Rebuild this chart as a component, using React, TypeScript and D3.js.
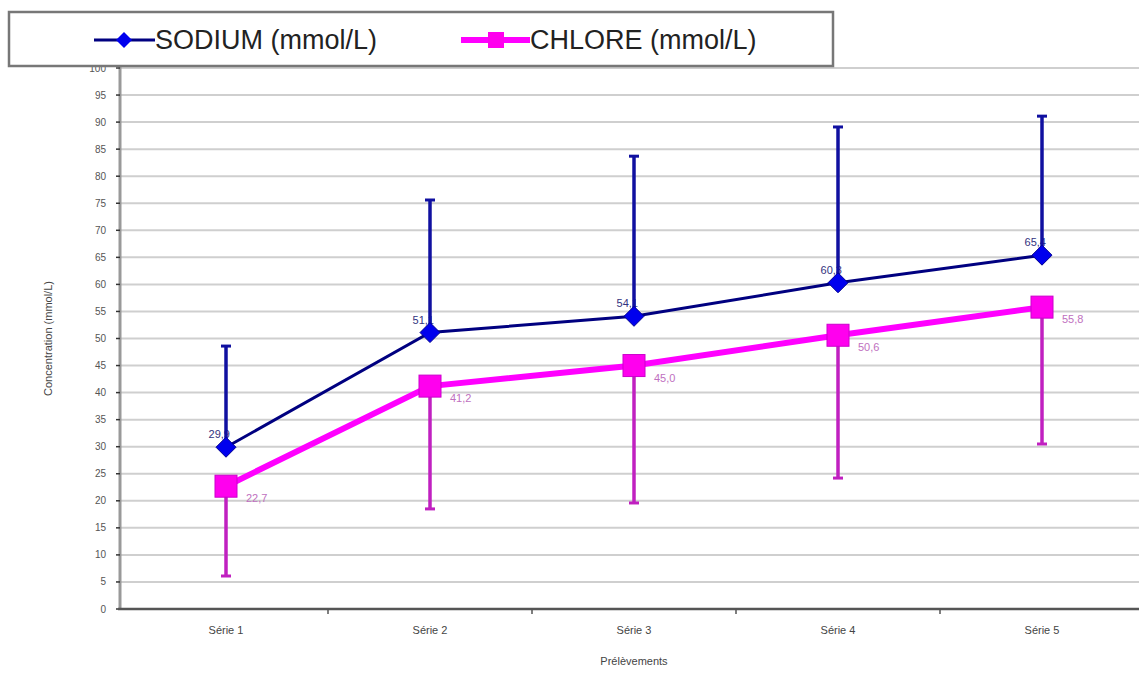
import React from "react";
import * as d3 from "d3";

const categories = ["Série 1", "Série 2", "Série 3", "Série 4", "Série 5"];
const sodium = [29.9, 51.1, 54.1, 60.3, 65.4];
const sodiumSD = [18.7, 24.5, 29.6, 28.8, 25.7];
const chlore = [22.7, 41.2, 45.0, 50.6, 55.8];
const chloreSD = [16.6, 22.7, 25.4, 26.4, 25.3];
const yTicks = d3.range(0, 101, 5);

const W = 1139;
const H = 675;

export default function App() {
  const x = d3.scaleBand<string>().domain(categories).range([124, 1144]).padding(0);
  const y = d3.scaleLinear().domain([0, 100]).range([609, 68]);
  const cx = (c: string) => (x(c) as number) + x.bandwidth() / 2;
  const line = d3
    .line<number>()
    .x((_, i) => cx(categories[i]))
    .y((d) => y(d));
  const fmt = (v: number) => v.toFixed(1).replace(".", ",");
  const font = "Arial, 'Liberation Sans', sans-serif";

  return (
    <svg
      width={W}
      height={H}
      style={{ position: "absolute", left: 0, top: 0, background: "#fff" }}
      fontFamily={font}
    >
      {/* grid */}
      {yTicks.map((t) => (
        <line key={"g" + t} x1={120} x2={1140} y1={y(t)} y2={y(t)} stroke="#cfcfcf" strokeWidth={2} />
      ))}
      {/* y axis */}
      <line x1={120} x2={120} y1={y(100) - 2} y2={y(0)} stroke="#999" strokeWidth={3} />
      {yTicks.map((t) => (
        <g key={"t" + t}>
          <line x1={116} x2={120} y1={y(t)} y2={y(t)} stroke="#333" strokeWidth={1.5} />
          <text x={106} y={y(t)} dy="0.35em" textAnchor="end" fontSize={10} fill="#555">
            {t}
          </text>
        </g>
      ))}
      {/* x axis */}
      <line x1={118} x2={1140} y1={y(0)} y2={y(0)} stroke="#555" strokeWidth={2.5} />
      {categories.slice(1).map((c) => (
        <line key={"xt" + c} x1={x(c)} x2={x(c)} y1={y(0)} y2={y(0) + 5} stroke="#555" strokeWidth={1.5} />
      ))}
      {categories.map((c) => (
        <text key={"xl" + c} x={cx(c)} y={634} textAnchor="middle" fontSize={11} fill="#444">
          {c}
        </text>
      ))}
      <text x={634} y={665} textAnchor="middle" fontSize={11} fill="#444">
        Prélèvements
      </text>
      <text
        transform={`translate(52,${y(50)}) rotate(-90)`}
        textAnchor="middle"
        fontSize={11}
        fill="#444"
      >
        Concentration (mmol/L)
      </text>

      {/* data labels (drawn beneath bars) */}
      {sodium.map((v, i) => (
        <text key={"sl" + i} x={cx(categories[i]) + 4} y={y(v) - 9} textAnchor="end" fontSize={11} fill="#333380">
          {fmt(v)}
        </text>
      ))}
      {chlore.map((v, i) => (
        <text key={"cl" + i} x={cx(categories[i]) + 20} y={y(v) + 16} textAnchor="start" fontSize={11} fill="#c070c0">
          {fmt(v)}
        </text>
      ))}

      {/* sodium error bars */}
      {sodium.map((v, i) => {
        const px = cx(categories[i]);
        return (
          <g key={"se" + i}>
            <line x1={px} x2={px} y1={y(v)} y2={y(v + sodiumSD[i])} stroke="#1010a0" strokeWidth={3.5} />
            <line x1={px - 5} x2={px + 5} y1={y(v + sodiumSD[i])} y2={y(v + sodiumSD[i])} stroke="#1010a0" strokeWidth={3} />
          </g>
        );
      })}
      {/* chlore error bars */}
      {chlore.map((v, i) => {
        const px = cx(categories[i]);
        return (
          <g key={"ce" + i}>
            <line x1={px} x2={px} y1={y(v)} y2={y(v - chloreSD[i])} stroke="#c020c0" strokeWidth={3.5} />
            <line x1={px - 5} x2={px + 5} y1={y(v - chloreSD[i])} y2={y(v - chloreSD[i])} stroke="#c020c0" strokeWidth={3} />
          </g>
        );
      })}

      {/* lines */}
      <path d={line(sodium) as string} fill="none" stroke="#000080" strokeWidth={3} />
      <path d={line(chlore) as string} fill="none" stroke="#ff00ff" strokeWidth={6} />

      {/* markers */}
      {sodium.map((v, i) => {
        const px = cx(categories[i]);
        const py = y(v);
        const r = 10;
        return (
          <path
            key={"sm" + i}
            d={`M${px},${py - r}L${px + r},${py}L${px},${py + r}L${px - r},${py}Z`}
            fill="#0000ee"
            stroke="#000090"
            strokeWidth={1}
          />
        );
      })}
      {chlore.map((v, i) => {
        const px = cx(categories[i]);
        const py = y(v);
        const s = 22;
        return (
          <rect key={"cm" + i} x={px - s / 2} y={py - s / 2} width={s} height={s} fill="#ff00ee" stroke="#cc00cc" strokeWidth={1} />
        );
      })}

      {/* legend */}
      <rect x={9} y={12} width={824} height={54} fill="#fff" stroke="#777" strokeWidth={2.5} />
      <line x1={94} x2={155} y1={40} y2={40} stroke="#000080" strokeWidth={3} />
      <path d="M124,32L132,40L124,48L116,40Z" fill="#0000ee" />
      <text x={155} y={40} dy="0.35em" fontSize={27} fill="#222">
        SODIUM (mmol/L)
      </text>
      <line x1={461} x2={530} y1={40} y2={40} stroke="#ff00ff" strokeWidth={6} />
      <rect x={488} y={32} width={16} height={16} fill="#ff00ee" />
      <text x={530} y={40} dy="0.35em" fontSize={27} fill="#222">
        CHLORE (mmol/L)
      </text>
    </svg>
  );
}
